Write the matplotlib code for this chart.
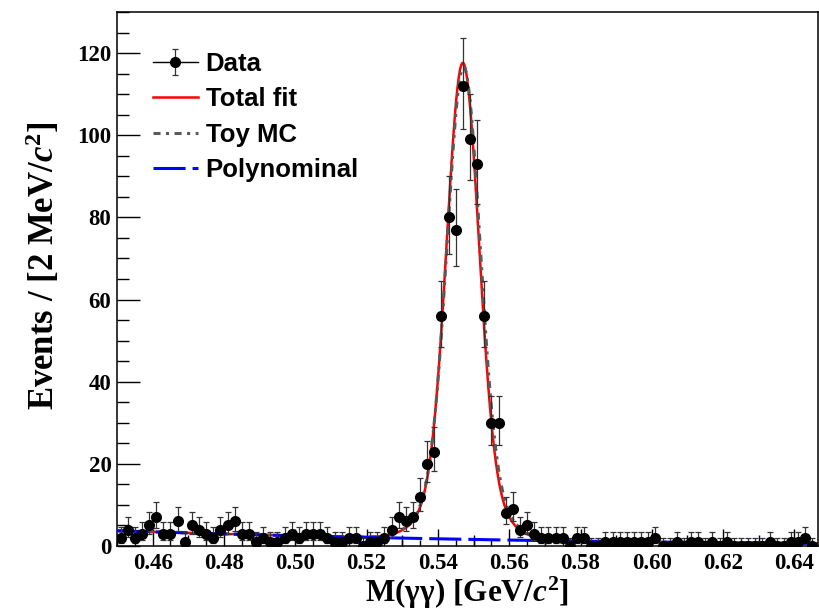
import numpy as np
import matplotlib
matplotlib.use("Agg")
import matplotlib.pyplot as plt
from matplotlib.lines import Line2D
from matplotlib.legend_handler import HandlerTuple
from matplotlib.ticker import MultipleLocator, FixedLocator

# ---------------- data ----------------
bin_lo, bin_w = 0.450, 0.002
counts = [2, 4, 2, 3, 5, 7, 3, 3, 6, 1,
          5, 4, 3, 2, 4, 5, 6, 3, 3, 1,
          2, 1, 1, 2, 3, 2, 3, 3, 3, 2,
          1, 1, 2, 2, 0, 1, 1, 2, 4, 7,
          6, 7, 12, 20, 23, 56, 80, 77, 112, 99,
          93, 56, 30, 30, 8, 9, 4, 5, 3, 2,
          2, 2, 2, 0, 2, 2, 0, 0, 1, 1,
          1, 1, 1, 1, 1, 2, 0, 0, 1, 0,
          1, 1, 0, 1, 0, 1, 0, 0, 0, 0,
          0, 1, 0, 0, 1, 1, 2, 0]
x_ticks = [0.46, 0.48, 0.50, 0.52, 0.54, 0.56, 0.58, 0.60, 0.62, 0.64]
y_ticks = [0, 20, 40, 60, 80, 100, 120]

# fit-model parameters
fit_mu, fit_a1, fit_s1, fit_a2, fit_s2 = 0.5470, 102.0, 0.0044, 14.0, 0.0085
toy_mu, toy_a1, toy_s1, toy_a2, toy_s2 = 0.5472, 100.0, 0.0045, 15.0, 0.0086
bkg_x0, bkg_c0, bkg_c1, bkg_c2 = 0.45, 3.7, -26.9, 57.8

legend_labels = ["Data", "Total fit", "Toy MC", "Polynominal"]

# ---------------- derived ----------------
counts = np.array(counts, dtype=float)
centers = bin_lo + bin_w * (np.arange(len(counts)) + 0.5)
# Poisson (Gehrels) asymmetric errors
up = np.sqrt(counts + 0.75) + 1.0
cc = np.maximum(counts, 1)
lo = np.where(counts > 0, counts - counts * (1 - 1 / (9 * cc) - 1 / (3 * np.sqrt(cc))) ** 3, 0.0)

xs = np.linspace(0.449, 0.652, 1200)
def bkg(x):
    t = x - bkg_x0
    return bkg_c0 + bkg_c1 * t + bkg_c2 * t * t
def sig(x, mu, a1, s1, a2, s2):
    return a1 * np.exp(-0.5 * ((x - mu) / s1) ** 2) + a2 * np.exp(-0.5 * ((x - mu) / s2) ** 2)

total = sig(xs, fit_mu, fit_a1, fit_s1, fit_a2, fit_s2) + bkg(xs)
toy = sig(xs, toy_mu, toy_a1, toy_s1, toy_a2, toy_s2) + bkg(xs)
poly = bkg(xs)

# ---------------- style ----------------
plt.rcParams['mathtext.fontset'] = 'custom'
plt.rcParams['mathtext.rm'] = 'Liberation Serif:bold'
plt.rcParams['mathtext.it'] = 'Liberation Serif:bold:italic'
plt.rcParams['mathtext.bf'] = 'Liberation Serif:bold'

fig = plt.figure(figsize=(8.2, 6.09), dpi=100)
ax = fig.add_axes([117 / 820, 63 / 609, 701 / 820, 534 / 609])

l_tot, = ax.plot(xs, total, color='#ff0000', lw=1.8, zorder=2)
l_toy, = ax.plot(xs, toy, color='#5a5a5a', lw=2.2, ls=(0, (2.3, 1.8, 1.0, 1.8)), zorder=3)
l_poly, = ax.plot(xs, poly, color='#0000ff', lw=2.2, ls=(0, (10.5, 2.3)), zorder=4)
eb = ax.errorbar(centers, counts, yerr=[lo, up], fmt='o', color='black', ms=7,
                 ecolor='#333333', elinewidth=0.9, capsize=2.2, capthick=0.9, zorder=5)

ax.set_xlim(0.45, 0.6466)
ax.set_ylim(0, 130)

ax.xaxis.set_major_locator(FixedLocator(x_ticks))
ax.xaxis.set_minor_locator(MultipleLocator(0.005))
ax.yaxis.set_major_locator(FixedLocator(y_ticks))
ax.yaxis.set_minor_locator(MultipleLocator(5))
ax.set_xticklabels(["%.2f" % v for v in x_ticks])
ax.set_yticklabels(["%d" % v for v in y_ticks])

ax.tick_params(axis='x', which='major', direction='in', length=12, width=1.0, pad=5)
ax.tick_params(axis='x', which='minor', direction='in', length=4.5, width=1.0)
ax.tick_params(axis='y', which='major', direction='in', length=16.5, width=1.0, pad=4)
ax.tick_params(axis='y', which='minor', direction='in', length=8.5, width=1.0)
for lab in ax.get_xticklabels() + ax.get_yticklabels():
    lab.set_fontfamily('Liberation Serif')
    lab.set_fontweight('bold')
    lab.set_fontsize(16.5)

# medium ticks at the odd hundredths
sec = ax.secondary_xaxis('bottom')
sec.set_xticks([0.47, 0.49, 0.51, 0.53, 0.55, 0.57, 0.59, 0.61, 0.63])
sec.tick_params(direction='in', length=8, width=1.0, labelbottom=False)
sec.spines['bottom'].set_visible(False)

for sp in ax.spines.values():
    sp.set_linewidth(1.1)

ax.set_xlabel(r'M(γγ) [GeV/$c^{2}$]', fontfamily='Liberation Serif', fontweight='bold', fontsize=22.5)
ax.set_ylabel(r'Events / [2 MeV/$c^{2}$]', fontfamily='Liberation Serif', fontweight='bold', fontsize=25)
ax.xaxis.set_label_coords(0.5, -0.053)
ax.yaxis.set_label_coords(-0.078, 0.525)

data_handle = (Line2D([], [], color='black', lw=1.0), eb)
leg = ax.legend([data_handle, l_tot, l_toy, l_poly], legend_labels,
                handler_map={tuple: HandlerTuple(ndivide=1)},
                loc='upper left', bbox_to_anchor=(36 / 701, 1 - 40 / 534),
                frameon=False, borderpad=0, borderaxespad=0,
                handlelength=1.75, handletextpad=0.3, labelspacing=0.44,
                prop={'family': 'Liberation Sans', 'weight': 'bold', 'size': 18.5})

fig.savefig('out.png', dpi=100)
